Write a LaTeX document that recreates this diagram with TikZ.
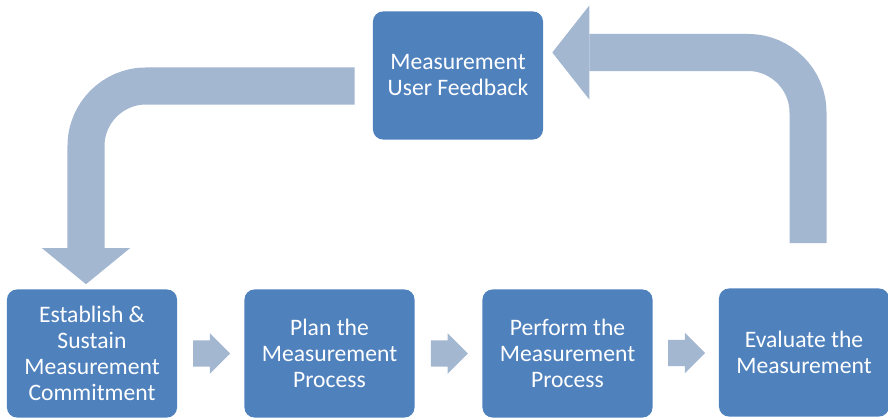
\documentclass[tikz,border=0pt]{standalone}
\usepackage{fontspec}
\setmainfont{Carlito}
\usetikzlibrary{calc, shapes.arrows}

\definecolor{boxblue}{HTML}{4F81BD}
\definecolor{loopblue}{HTML}{A3B7D1}

\tikzset{
  stagebox/.style={fill=boxblue, rounded corners=0.25cm, minimum width=4.25cm,
    minimum height=3.2cm, text=white, align=center, inner sep=2pt,
    font=\fontsize{16.8}{18.5}\selectfont},
  nextarrow/.style={single arrow, fill=loopblue, minimum height=0.925cm,
    inner xsep=0pt, inner ysep=0.32cm, single arrow head extend=0.18cm,
    xshift=-0.14cm},
  loopshaft/.style={draw=loopblue, line width=0.925cm, rounded corners=1.5cm},
}

\begin{document}
\begin{tikzpicture}[x=0.025cm, y=-0.025cm]
  \useasboundingbox (0,0) rectangle (888,419);

  % the four stages and the feedback box
  \node[stagebox] (fb) at (458,75.5) {Measurement\\User Feedback};
  \node[stagebox] (est) at (92,353.5) {Establish \&\\Sustain\\Measurement\\Commitment};
  \node[stagebox] (plan) at (329.5,353.5) {Plan the\\Measurement\\Process};
  \node[stagebox] (perf) at (567.5,353.5) {Perform the\\Measurement\\Process};
  \node[stagebox] (eval) at (804,352.5) {Evaluate the\\Measurement};

  % small arrows between stages
  \node[nextarrow] (a1) at ($(est.east)!0.5!(plan.west)$) {};
  \node[nextarrow] (a2) at ($(plan.east)!0.5!(perf.west)$) {};
  \node[nextarrow] (a3) at ($(perf.east)!0.5!(eval.west)$) {};

  % loop: evaluate -> feedback
  \coordinate (rstart) at ($(eval.north)+(4,-45)$);
  \coordinate (rtip) at ($(fb.east)+(9,-23)$);
  \draw[loopshaft] (rstart) |- ($(rtip)+(37,0)$);
  \fill[loopblue] ($(rtip)+(37,-47)$) -- (rtip) -- ($(rtip)+(37,47)$) -- cycle;

  % loop: feedback -> establish
  \coordinate (lstart) at ($(fb.west)+(-18,10.5)$);
  \coordinate (ltip) at ($(est.north)+(-6,-5)$);
  \draw[loopshaft] (lstart) -| ($(ltip)+(0,-36)$);
  \fill[loopblue] ($(ltip)+(-44,-36)$) -- (ltip) -- ($(ltip)+(44,-36)$) -- cycle;
\end{tikzpicture}
\end{document}
